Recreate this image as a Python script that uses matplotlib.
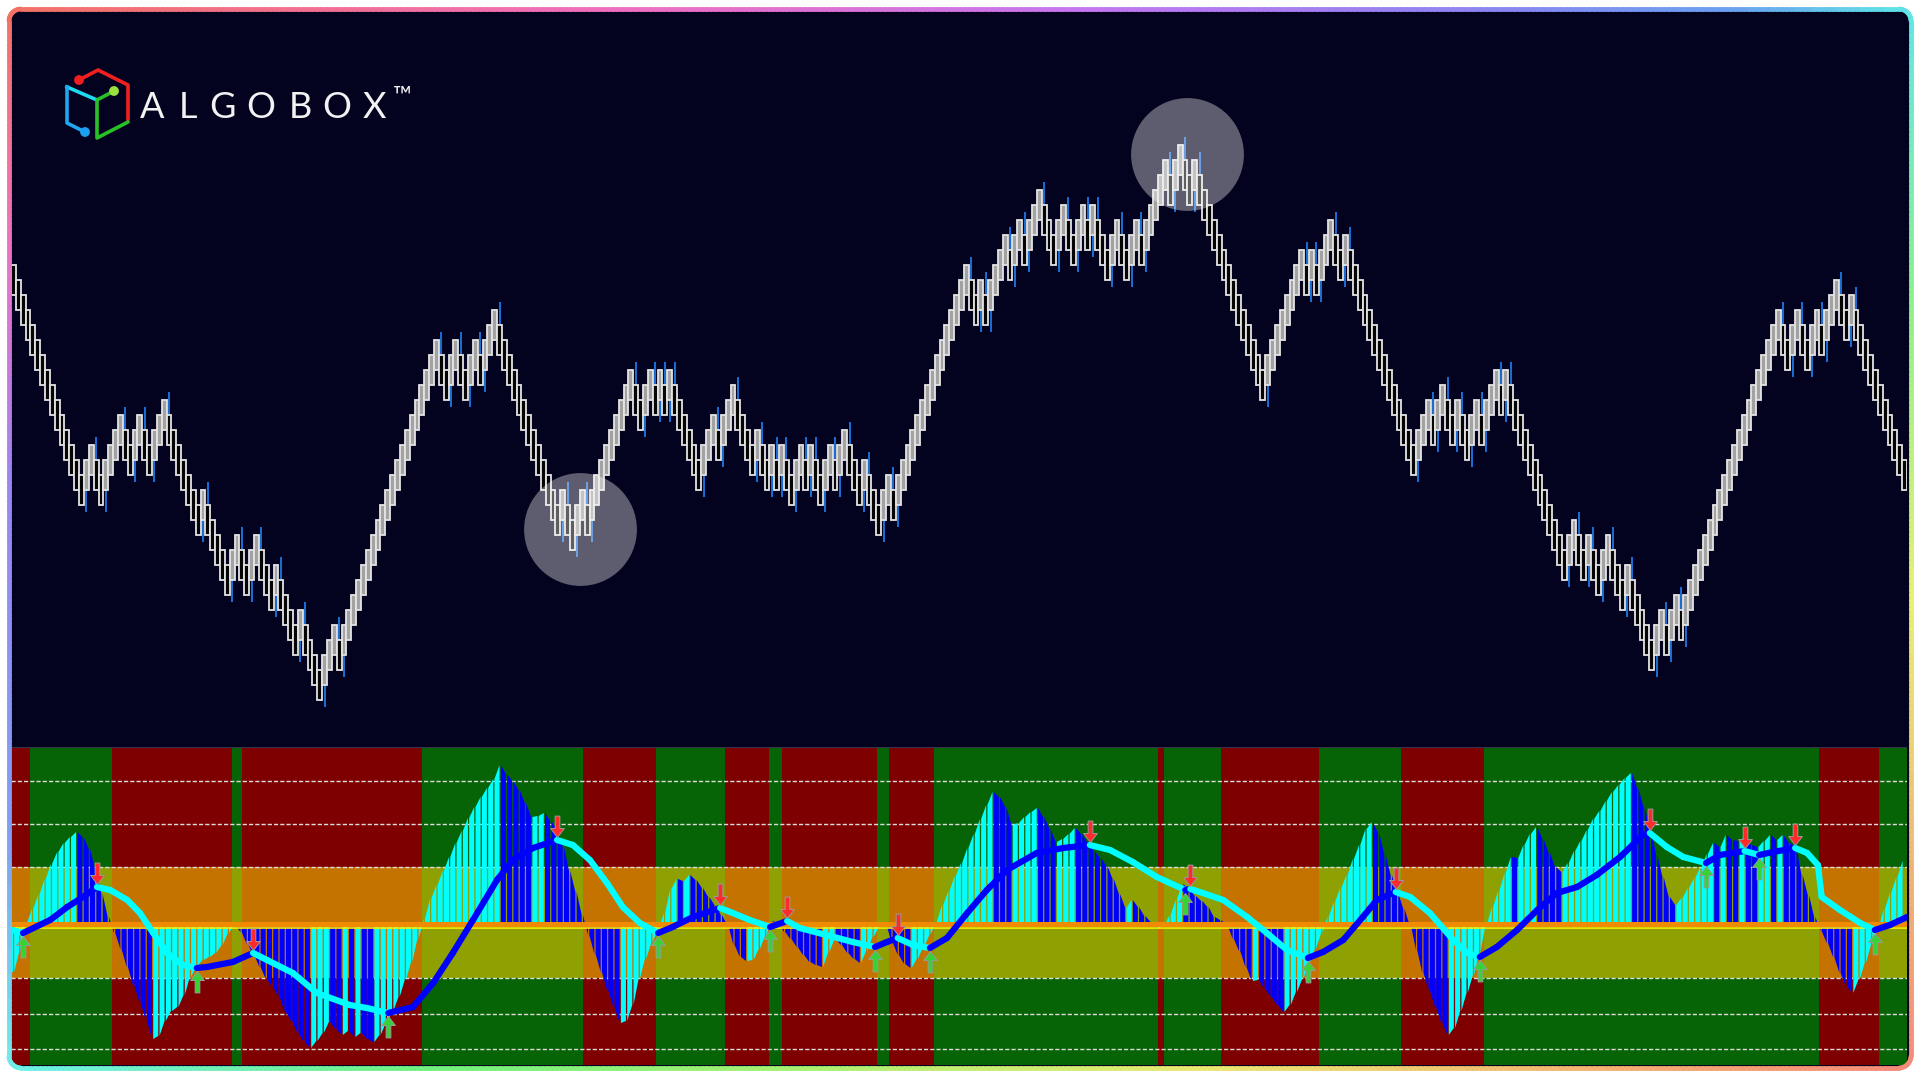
import numpy as np
import matplotlib
matplotlib.use("Agg")
import matplotlib.pyplot as plt
from matplotlib.collections import LineCollection, PolyCollection
from matplotlib.colors import LinearSegmentedColormap
from matplotlib.patches import FancyBboxPatch, Circle
from matplotlib.path import Path

W, H = 1920, 1077

# renko bricks, signed run lengths (+ up / - down), one brick per step
BRICK_RUNS = [
    -14,
    +2, -2, +4, -2, +2, -2, +3,
    -7, +1, -5, +2, -2, +2, -3, +1, -4, +1, -4,
    +3, -1, +20, -2, +2, -2, +2, -1, +3,
    -13, +1, -2,
    +2, -1, +9,
    -2, +2, -1, +1, -1, +1, -6,
    +3, -1, +3, -1,
    -3, +1, -2, +1, -1, +1, -2,
    +2, -1, +1, -2, +2, -1, +2,
    -3, +1, -3,
    +2, -1, +15,
    -2, +1, -1,
    +4, -1, +2, -1, +3,
    -3, +2, -2, +2, -1, +1, -3, +2, -2, +2, -1, +2,
    +3, -1, +2,
    -2, +1, -14,
    +8, -1, +1, -1, +3,
    -2, +1, -14,
    +3, -1, +2, -2, +1, -2, +2, -1, +3, -1, +1,
    -12, +2, -2, +1, -2, +2, -3, +1, -5,
    +2, -1, +2, -1, +20, -2, +2, -2, +2, -1, +3,
    -2, +1, -11,
]
# pivot bricks that get the highlight circle
HIGHLIGHT_BRICKS = [115, 240]

# oscillator histogram, one value per bar
HIST = [
    -4.5, -2.5, 0.3, 1.8, 3.2, 4.8, 6.3, 7.5, 8.4, 9.0,
    9.5, 9.0, 7.8, 5.8, 3.3, 1.0, -0.6, -2.2, -4.0, -5.8,
    -7.5, -9.3, -11.2, -10.9, -9.4, -8.4, -8.0, -6.8, -5.0, -3.9,
    -3.3, -3.0, -2.6, -1.8, -0.6, 0.2, -0.5, -1.7, -2.8, -4.0,
    -5.2, -6.0, -7.0, -8.5, -9.4, -10.6, -11.5, -12.1, -11.4, -10.6,
    -9.5, -10.2, -10.8, -10.4, -11.0, -10.6, -11.2, -11.5, -10.8, -9.6,
    -8.4, -7.0, -5.3, -3.5, -1.2, 0.8, 2.8, 4.2, 5.6, 7.0,
    8.4, 9.6, 10.9, 12.0, 13.0, 13.9, 14.8, 16.2, 15.3, 14.6,
    13.7, 12.4, 11.0, 11.1, 11.4, 10.6, 9.8, 8.0, 5.6, 3.5,
    1.2, -0.8, -2.7, -4.5, -6.3, -8.0, -9.6, -9.4, -7.8, -5.2,
    -3.2, -1.6, -0.2, 1.4, 3.8, 4.8, 4.6, 5.2, 4.7, 3.9,
    3.0, 2.2, 1.2, 0.2, -1.8, -3.0, -3.4, -3.3, -2.2, -0.9,
    0.6, 0.4, -0.5, -1.2, -2.0, -2.8, -3.5, -3.8, -4.0, -2.5,
    -1.2, -1.8, -2.6, -3.2, -3.6, -2.4, -1.0, 0.0, 0.3, -1.5,
    -2.8, -3.7, -4.1, -3.2, -2.0, -0.8, 0.5, 2.2, 3.6, 5.1,
    6.4, 7.9, 9.3, 10.8, 12.2, 13.5, 13.0, 12.0, 10.2, 10.4,
    11.0, 11.5, 11.9, 11.0, 9.8, 8.5, 8.8, 9.3, 9.9, 9.3,
    8.4, 7.6, 6.9, 6.1, 4.8, 3.3, 1.9, 2.7, 2.0, 1.1,
    0.5, -0.2, 0.1, 1.2, 2.8, 4.3, 3.8, 3.1, 2.6, 2.0,
    1.0, 0.7, 0.2, -1.2, -2.4, -4.0, -5.4, -5.3, -6.2, -7.0,
    -7.8, -8.5, -7.8, -6.5, -5.2, -3.6, -2.2, -0.6, 1.0, 2.5,
    3.9, 5.2, 6.8, 8.2, 9.8, 10.5, 9.4, 7.2, 5.2, 3.4,
    1.8, 0.2, -2.3, -4.6, -6.3, -8.0, -9.6, -10.8, -10.1, -8.4,
    -6.6, -4.8, -2.6, 0.2, 2.0, 3.6, 5.4, 7.0, 6.9, 8.2,
    9.3, 10.0, 8.8, 7.4, 6.0, 5.5, 6.4, 7.6, 8.6, 9.7,
    10.8, 11.6, 12.6, 13.5, 14.2, 14.9, 15.4, 13.9, 12.0, 9.8,
    7.2, 5.0, 3.0, 2.2, 2.9, 3.9, 4.9, 6.0, 7.3, 8.4,
    8.0, 9.2, 8.7, 8.6, 9.0, 8.2, 8.0, 8.6, 9.2, 8.7,
    9.2, 8.4, 8.0, 5.2, 3.2, 1.0, -0.4, -1.6, -3.0, -4.6,
    -5.9, -6.6, -5.3, -3.6, -1.8, -0.2, 1.8, 3.4, 5.0, 6.6,
]

# signal line (bar position, value)
SIGNAL_X = [
    0.2, 1.9, 6.2, 8.9, 11.4, 13.6, 15.7, 18.4, 20.4, 22.5, 24.7, 27.2, 29.4,
    31.0, 35.1, 38.3, 40.5, 44.6, 48.4, 53.6, 56.3, 59.7, 63.6, 66.8, 69.9,
    73.1, 76.9, 79.4, 82.6, 86.4, 88.9, 91.6, 94.3, 96.8, 99.5, 102.4, 104.7,
    107.9, 112.2, 114.2, 116.9, 120.1, 122.8, 124.8, 129.6, 133.2, 136.7,
    138.6, 140.3, 142.7, 145.4, 148.1, 151.3, 154.4, 157.6, 162.3, 166.5,
    170.7, 173.9, 177.5, 181.3, 185.8, 186.6, 188.1, 191.8, 195.6, 198.7,
    201.9, 205.2, 207.6, 210.8, 213.9, 216.1, 219.1, 221.4, 224.5, 228.2,
    230.4, 232.4, 235.1, 238.3, 241.5, 244.6, 247.8, 250.9, 254.6, 258.2,
    259.3, 262.0, 264.6, 268.2, 270.4, 274.3, 276.6, 278.8, 282.3, 284.2,
    285.9, 286.5, 289.4, 292.6, 294.9, 297.3, 300.0,
]
SIGNAL_V = [
    -0.3, -0.6, 0.7, 2.0, 3.0, 4.0, 3.7, 2.7, 1.4, -0.6, -2.6, -3.8, -4.1,
    -4.0, -3.5, -2.6, -3.3, -4.6, -6.6, -7.8, -8.1, -8.6, -8.0, -5.6, -2.6,
    0.7, 4.7, 6.7, 7.9, 8.7, 8.2, 6.7, 4.4, 2.0, 0.4, -0.6, 0.0,
    1.0, 1.9, 1.4, 0.7, 0.0, 0.6, -0.1, -0.9, -1.5, -2.0,
    -1.5, -1.1, -1.8, -2.1, -1.1, 1.4, 3.7, 5.7, 7.4, 7.9,
    8.2, 7.7, 6.5, 5.0, 3.7, 3.8, 3.5, 2.7, 1.0, -0.6,
    -2.3, -3.1, -2.5, -1.3, 1.0, 2.7, 3.5, 3.0, 1.4, -1.3,
    -2.6, -3.0, -2.0, -0.3, 1.7, 3.4, 4.0, 5.2, 7.0, 9.2,
    9.4, 8.0, 7.0, 6.4, 7.2, 7.6, 7.2, 7.5, 7.9, 7.4,
    6.2, 3.0, 1.7, 0.4, -0.3, 0.2, 1.0,
]

# bull / bear background zones (bar edges), starting with bear
ZONE_EDGES = [0, 3, 16, 35, 36.5, 65, 90.5, 102, 113, 120, 122, 137, 139, 146,
              181.5, 182.5, 191.5, 207, 220, 233, 286, 295.5, 300]
GRID_LEVELS = [14.6, 10.3, 6.0, -5.1, -8.7, -12.2]
UPPER_BAND = (0.5, 6.0)
LOWER_BAND = (-5.1, -0.1)

BG = "#03021f"
RED_ZONE = "#7f0000"
GREEN_ZONE = "#066406"
CYAN = "#00ffff"
BLUE = "#0000ff"

BORDER_STOPS = [
    (0.00, "#f27268"), (0.10, "#ef6fc0"), (0.18, "#c577ef"), (0.25, "#8a86f2"),
    (0.29, "#6aa2f0"), (0.32, "#5fe6e6"), (0.37, "#8ef08a"), (0.42, "#e8f070"),
    (0.50, "#f48a78"), (0.55, "#f3b070"), (0.62, "#e8e870"), (0.69, "#a6f070"),
    (0.75, "#70f07c"), (0.82, "#6ef0e8"), (0.86, "#7fa0f2"), (0.92, "#9a86f2"),
    (0.96, "#ee72c4"), (1.00, "#f27268"),
]


def px_axes(fig, x0, y0, x1, y1):
    return fig.add_axes([x0 / W, 1 - y1 / H, (x1 - x0) / W, (y1 - y0) / H])


def brick_levels(runs):
    lv = [0]
    for r in runs:
        step = 1 if r > 0 else -1
        for _ in range(abs(r)):
            lv.append(lv[-1] + step)
    return np.array(lv)


def rounded_rect(x0, y0, x1, y1, r):
    pts = []
    def edge(a, b, n):
        for t in np.linspace(0, 1, n, endpoint=False):
            pts.append((a[0] + (b[0] - a[0]) * t, a[1] + (b[1] - a[1]) * t))
    def arc(cx, cy, a0, a1):
        for a in np.linspace(a0, a1, 10, endpoint=False):
            pts.append((cx + r * np.cos(a), cy + r * np.sin(a)))
    edge((x0 + r, y0), (x1 - r, y0), 400)
    arc(x1 - r, y0 + r, -np.pi / 2, 0)
    edge((x1, y0 + r), (x1, y1 - r), 220)
    arc(x1 - r, y1 - r, 0, np.pi / 2)
    edge((x1 - r, y1), (x0 + r, y1), 400)
    arc(x0 + r, y1 - r, np.pi / 2, np.pi)
    edge((x0, y1 - r), (x0, y0 + r), 220)
    arc(x0 + r, y0 + r, np.pi, 1.5 * np.pi)
    pts.append(pts[0])
    return np.array(pts)


def draw_price(ax):
    lv = brick_levels(BRICK_RUNS)
    n = len(lv)
    idx = np.arange(n)
    up = np.r_[False, np.diff(lv) > 0]

    # wicks on reversal bricks
    for i in range(2, n):
        if up[i] != up[i - 1]:
            if up[i]:
                ax.vlines(i, lv[i] - 2.5, lv[i], color="#1e78e6", lw=1.3, zorder=2)
            else:
                ax.vlines(i, lv[i], lv[i] + 2.5, color="#1e78e6", lw=1.3, zorder=2)

    fills = np.where(up, "#a2a2a2", "#050505")
    ax.bar(idx, 2.0, bottom=lv - 1, width=1.0, color=fills,
           edgecolor="#e4e4e4", linewidth=1.3, zorder=3)

    hb = np.array(HIGHLIGHT_BRICKS)
    ax.scatter(hb + 1.5, lv[hb] + 0.4, s=6600, c="white", alpha=0.36,
               linewidths=0, zorder=5)

    ax.set_xlim(-0.5, n - 0.5)
    ax.set_ylim(-31.07, 17.93)
    ax.set_facecolor(BG)
    ax.axis("off")


def draw_oscillator(ax):
    for k in range(len(ZONE_EDGES) - 1):
        col = RED_ZONE if k % 2 == 0 else GREEN_ZONE
        ax.axvspan(ZONE_EDGES[k], ZONE_EDGES[k + 1], color=col, lw=0, zorder=0)

    ax.axhspan(*UPPER_BAND, color="#ffd200", alpha=0.55, lw=0, zorder=1)
    ax.axhspan(*LOWER_BAND, color="#ffd200", alpha=0.55, lw=0, zorder=1)

    for g in GRID_LEVELS:
        ax.axhline(g, color="#dcdcdc", lw=1.0, ls=(0, (3, 1.5)), zorder=2)

    hist = np.array(HIST)
    polys, cols = [], []
    gap = 0.2
    for i, v in enumerate(hist):
        prev = hist[i - 1] if i else v
        x0, x1 = i - 0.5, i + 0.5 - gap
        polys.append([(x0, 0), (x0, prev), (x1, v), (x1, 0)])
        cols.append(CYAN if v >= prev else BLUE)
    ax.add_collection(PolyCollection(polys, facecolors=cols, edgecolors="none", zorder=3))

    ax.axhspan(0.0, 0.5, color="#f08a00", lw=0, zorder=4)
    ax.axhline(-0.05, color="#ffee00", lw=1.2, zorder=4)

    sx = np.array(SIGNAL_X)
    sv = np.array(SIGNAL_V)
    segs = [[(sx[k], sv[k]), (sx[k + 1], sv[k + 1])] for k in range(len(sx) - 1)]
    scol = [BLUE if sv[k + 1] > sv[k] else CYAN for k in range(len(sx) - 1)]
    ax.add_collection(LineCollection(segs, colors=scol, linewidths=4.5,
                                     capstyle="round", zorder=5))

    down = Path([(0, 0), (0.32, 0.42), (0.11, 0.42), (0.11, 1.0), (-0.11, 1.0),
                 (-0.11, 0.42), (-0.32, 0.42), (0, 0)], closed=True)
    upm = Path([(x, -y) for x, y in down.vertices], closed=True)
    peaks = [k for k in range(1, len(sv) - 1) if sv[k] > sv[k - 1] and sv[k] > sv[k + 1]]
    troughs = [k for k in range(1, len(sv) - 1) if sv[k] < sv[k - 1] and sv[k] < sv[k + 1]]
    ax.scatter(sx[peaks], sv[peaks] + 0.3, marker=down, s=950, c="#ff2a2a",
               edgecolors="#9a9a9a", linewidths=0.7, zorder=6)
    ax.scatter(sx[troughs], sv[troughs] - 0.3, marker=upm, s=950, c="#36d236",
               edgecolors="#9a9a9a", linewidths=0.7, zorder=6)

    ax.axhline(18.0, color="#33334a", lw=1.5, zorder=7)
    ax.set_xlim(0, 300)
    ax.set_ylim(-13.8, 18.0)
    ax.axis("off")


def draw_frame(ax):
    pts = rounded_rect(9, 9, 1911, 1068, 12)
    seg = np.stack([pts[:-1], pts[1:]], axis=1)
    d = np.hypot(*(pts[1:] - pts[:-1]).T)
    t = np.cumsum(d) / d.sum()
    cmap = LinearSegmentedColormap.from_list("rim", BORDER_STOPS)
    ax.add_collection(LineCollection(seg, colors=cmap(t), linewidths=3.4,
                                     capstyle="round", zorder=10))


def draw_logo(ax):
    ax.plot([79, 98, 128, 128], [80, 70, 85, 120], color="#f02020", lw=2.6,
            solid_capstyle="round", zorder=11)
    ax.plot([67, 97], [87, 100], color="#20d8f0", lw=2.6, zorder=11)
    ax.plot([67, 67, 85], [87, 123, 132], color="#1ea8f0", lw=2.6, zorder=11)
    ax.plot([114, 97, 97, 128], [91, 100, 138, 122], color="#28c028", lw=2.6,
            solid_capstyle="round", zorder=11)
    ax.add_patch(Circle((79, 80), 4.2, color="#f02020", zorder=12))
    ax.add_patch(Circle((114, 91), 4.2, color="#9ce040", zorder=12))
    ax.add_patch(Circle((85, 132), 4.2, color="#1e9ef0", zorder=12))

    letters = "ALGOBOX"
    xs = [152, 188, 222, 261, 300, 337, 374]
    for ch, x in zip(letters, xs):
        ax.text(x, 118, ch, color="#f2f2f2", fontsize=26, fontweight="normal",
                family=["Lato", "DejaVu Sans"], ha="center", va="baseline", zorder=12)
    ax.text(402, 104, "\u2122", color="#f2f2f2", fontsize=18, fontweight="normal",
            family=["Lato", "DejaVu Sans"], ha="center", va="baseline", zorder=12)


fig = plt.figure(figsize=(W / 100, H / 100), dpi=100, facecolor="white")

bg = fig.add_axes([0, 0, 1, 1])
bg.set_xlim(0, W)
bg.set_ylim(H, 0)
bg.axis("off")
bg.add_patch(FancyBboxPatch((10, 10), 1900, 1057, boxstyle="round,pad=0,rounding_size=11",
                            facecolor=BG, edgecolor="none"))

ax_top = px_axes(fig, 11, 11, 1907, 746)
draw_price(ax_top)

ax_bot = px_axes(fig, 11, 747, 1907, 1065)
draw_oscillator(ax_bot)

fg = fig.add_axes([0, 0, 1, 1])
fg.set_xlim(0, W)
fg.set_ylim(H, 0)
fg.axis("off")
fg.patch.set_alpha(0)
draw_frame(fg)
draw_logo(fg)

fig.savefig("out.png", dpi=100, facecolor="white")
